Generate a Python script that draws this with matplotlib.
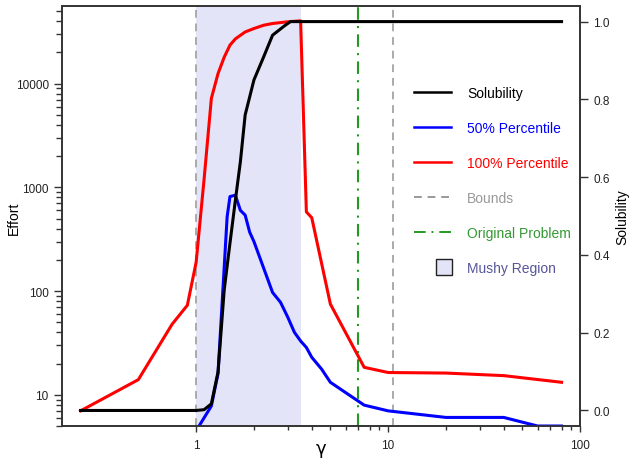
import matplotlib

matplotlib.use("Agg")

import matplotlib.pyplot as plt
from matplotlib.legend_handler import HandlerPatch
from matplotlib.lines import Line2D
from matplotlib.patches import Patch, Rectangle
from matplotlib.ticker import FixedLocator, FuncFormatter, NullFormatter

plt.rcParams["font.family"] = ["Liberation Sans", "DejaVu Sans"]

# effort, 100% percentile (left axis, log)
gamma_max = [0.25, 0.5, 0.75, 0.9, 1.0, 1.1, 1.2, 1.3, 1.4, 1.5, 1.6, 1.8, 2.0,
             2.25, 2.5, 3.0, 3.5, 3.75, 4.0, 5.0, 7.5, 10, 20, 40, 80]
effort_max = [7, 14, 48, 73, 190, 1200, 7200, 12500, 18000, 23500, 27000, 31500,
              34000, 36600, 38000, 39500, 40300, 580, 510, 75, 18.4, 16.4, 16.2,
              15.3, 13.2]

# effort, 50% percentile
gamma_med = [1.0, 1.2, 1.3, 1.45, 1.5, 1.6, 1.7, 1.8, 1.9, 2.0, 2.5, 2.75, 3.0,
             3.25, 3.5, 3.75, 4.0, 4.5, 5.0, 7.5, 10, 20, 40, 60, 80]
effort_med = [4.5, 7.8, 16, 520, 815, 840, 600, 540, 370, 300, 97, 78, 56, 40,
              33, 28.6, 23, 17.7, 13.2, 7.95, 7.0, 6.05, 6.05, 5.0, 5.0]

# solubility (right axis)
gamma_sol = [0.25, 1.0, 1.1, 1.2, 1.3, 1.4, 1.5, 1.6, 1.7, 1.8, 2.0, 2.25, 2.5,
             2.9, 3.1, 80]
solubility = [0.0, 0.0, 0.002, 0.017, 0.099, 0.31, 0.43, 0.54, 0.64, 0.76, 0.85,
              0.91, 0.965, 0.99, 1.0, 1.0]

bounds = [1.0, 10.6]
original_problem = 7.0
mushy = (1.0, 3.5)

SPINE = "#333333"


def small_square(legend, orig_handle, xdescent, ydescent, width, height, fontsize):
    s = 11.5
    return Rectangle((16 - xdescent, (height - s) / 2 - ydescent), s, s)


fig = plt.figure(figsize=(6.32, 4.6), dpi=100)
ax = fig.add_axes([0.098, 0.0717, 0.82, 0.913])
ax2 = ax.twinx()

ax.axvspan(*mushy, color="#e3e4f7", lw=0, zorder=0)
for b in bounds:
    ax.axvline(b, color="#aaaaaa", lw=1.4, ls=(0, (4, 3)), zorder=1)
ax.axvline(original_problem, color="#229922", lw=1.5, ls=(0, (6, 3, 1, 3)), zorder=1)

ax.plot(gamma_max, effort_max, color="#ff0000", lw=2.2, zorder=3)
ax.plot(gamma_med, effort_med, color="#0000ff", lw=2.2, zorder=3)
ax2.plot(gamma_sol, solubility, color="black", lw=2.2, zorder=3)

ax.set_xscale("log")
ax.set_yscale("log")
ax.set_xlim(0.2, 100)
ax.set_ylim(5, 56000)
ax2.set_ylim(-0.04, 1.04)

ax.xaxis.set_major_locator(FixedLocator([1, 10, 100]))
ax.xaxis.set_minor_locator(FixedLocator([2, 3, 4, 5, 6, 7, 8, 9,
                                          20, 30, 40, 50, 60, 70, 80, 90]))
ax.xaxis.set_major_formatter(FuncFormatter(lambda v, p: f"{v:g}"))
ax.xaxis.set_minor_formatter(NullFormatter())
ax.yaxis.set_major_locator(FixedLocator([10, 100, 1000, 10000]))
ax.yaxis.set_major_formatter(FuncFormatter(lambda v, p: f"{v:g}"))
ax.yaxis.set_minor_formatter(NullFormatter())
ax2.set_yticks([0.0, 0.2, 0.4, 0.6, 0.8, 1.0])
ax2.yaxis.set_major_formatter(FuncFormatter(lambda v, p: f"{v:.1f}"))

for a in (ax, ax2):
    for sp in a.spines.values():
        sp.set_color(SPINE)
        sp.set_linewidth(1.2)
ax.tick_params(axis="both", which="both", direction="out", colors=SPINE,
               labelcolor="#222222", labelsize=8.5)
ax.tick_params(axis="y", which="major", length=6, width=1)
ax.tick_params(axis="y", which="minor", length=4, width=1)
ax.tick_params(axis="x", which="major", length=4, width=1, pad=5)
ax.tick_params(axis="x", which="minor", length=3, width=1)
ax2.tick_params(axis="y", direction="out", length=6, width=1, colors=SPINE,
                labelcolor="#222222", labelsize=8.5)

# axis titles placed in figure pixels so they stay inside the canvas
fig.text(321 / 632, 1 - 449 / 460, "γ", fontsize=13, family="DejaVu Sans",
         ha="center", va="center")
fig.text(14 / 632, 1 - 218 / 460, "Effort", fontsize=10, rotation=90,
         ha="center", va="center")
ax2.set_ylabel("Solubility", fontsize=10, labelpad=4)

handles = [
    Line2D([], [], color="black", lw=1.8),
    Line2D([], [], color="#0000ff", lw=1.8),
    Line2D([], [], color="#ff0000", lw=1.8),
    Line2D([], [], color="#999999", lw=1.4, ls=(0, (4, 3))),
    Line2D([], [], color="#229922", lw=1.4, ls=(0, (6, 3, 1, 3))),
    Patch(facecolor="#e3e4f7", edgecolor="#222222", lw=1),
]
labels = ["Solubility", "50% Percentile", "100% Percentile", "Bounds",
          "Original Problem", "Mushy Region"]
leg = ax2.legend(handles, labels, loc="upper left", bbox_to_anchor=(0.655, 0.84),
                 frameon=False, fontsize=10, labelspacing=1.52, handlelength=2.65,
                 handletextpad=1.2,
                 labelcolor=["black", "#0000ff", "#ff0000", "#999999", "#339933",
                             "#555599"],
                 handler_map={Patch: HandlerPatch(patch_func=small_square)})

fig.savefig("out.png", dpi=100)
